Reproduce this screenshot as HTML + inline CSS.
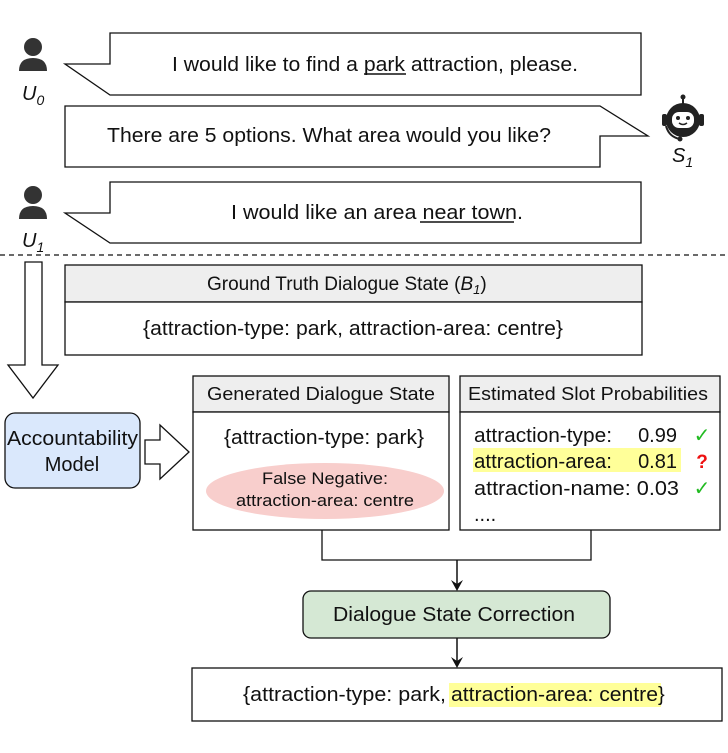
<!DOCTYPE html>
<html><head><style>
body{margin:0;background:#fff;}
svg text{font-family:"Liberation Sans",Arial,sans-serif;fill:#111;}
</style></head><body>
<svg width="728" height="748" viewBox="0 0 728 748" xmlns="http://www.w3.org/2000/svg">
<defs>
<g id="user"><circle cx="0" cy="0" r="9" fill="#333"/><path d="M-14,24 Q-14,11 0,11 Q14,11 14,24 Z" fill="#333"/></g>
</defs>
<path d="M110,33 H641 V95 H110 L65,64 H110 Z" fill="#fff" stroke="#111" stroke-width="1.3"/>
<text x="172" y="71" font-size="20" textLength="406" lengthAdjust="spacingAndGlyphs">I would like to find a park attraction, please.</text>
<line x1="364" y1="74" x2="406" y2="74" stroke="#111" stroke-width="1.5"/>
<path d="M65,106 H600 L648,136 H600 V167 H65 Z" fill="#fff" stroke="#111" stroke-width="1.3"/>
<text x="107" y="142" font-size="20" textLength="444" lengthAdjust="spacingAndGlyphs">There are 5 options. What area would you like?</text>
<path d="M110,182 H641 V243 H110 L65,213 H110 Z" fill="#fff" stroke="#111" stroke-width="1.3"/>
<text x="231" y="219" font-size="20" textLength="292" lengthAdjust="spacingAndGlyphs">I would like an area near town.</text>
<line x1="420" y1="222" x2="514" y2="222" stroke="#111" stroke-width="1.5"/>
<use href="#user" x="33" y="47"/>
<text x="22" y="100" font-size="20" font-style="italic">U<tspan font-size="14" dy="5">0</tspan></text>
<use href="#user" x="33" y="195"/>
<text x="22" y="247" font-size="20" font-style="italic">U<tspan font-size="14" dy="5">1</tspan></text>
<g transform="translate(683,120)">
<line x1="0" y1="-22" x2="0" y2="-14" stroke="#222" stroke-width="2"/><circle cx="0" cy="-23" r="2.5" fill="#222"/>
<circle cx="0" cy="0" r="17" fill="#222"/>
<rect x="-21" y="-6" width="5" height="12" rx="2" fill="#222"/><rect x="16" y="-6" width="5" height="12" rx="2" fill="#222"/>
<rect x="-11" y="-8" width="22" height="16" rx="7" fill="#fff"/>
<circle cx="-5" cy="-2" r="2" fill="#222"/><circle cx="5" cy="-2" r="2" fill="#222"/>
<path d="M-4,3 Q0,6 4,3" stroke="#222" stroke-width="1.5" fill="none"/>
<path d="M-17,6 Q-14,17 -3,19" stroke="#222" stroke-width="2" fill="none"/><circle cx="-3" cy="19" r="2.5" fill="#222"/>
</g>
<text x="672" y="162" font-size="20" font-style="italic">S<tspan font-size="14" dy="5">1</tspan></text>
<line x1="0" y1="255" x2="728" y2="255" stroke="#111" stroke-width="1.3" stroke-dasharray="5,4"/>
<path d="M25,262 H42 V365 H58 L33,398 L8,365 H25 Z" fill="#fff" stroke="#111" stroke-width="1.3"/>
<rect x="65" y="265" width="577" height="37" fill="#eeeeee" stroke="#111" stroke-width="1.3"/>
<rect x="65" y="302" width="577" height="53" fill="#fff" stroke="#111" stroke-width="1.3"/>
<text x="207" y="290" font-size="19">Ground Truth Dialogue State (<tspan font-style="italic">B</tspan><tspan font-size="13" dy="4" font-style="italic">1</tspan><tspan dy="-4">)</tspan></text>
<text x="143" y="335" font-size="20" textLength="420" lengthAdjust="spacingAndGlyphs">{attraction-type: park, attraction-area: centre}</text>
<rect x="5" y="413" width="135" height="75" rx="10" fill="#dae8fc" stroke="#111" stroke-width="1.3"/>
<text x="7" y="445" font-size="20" textLength="131" lengthAdjust="spacingAndGlyphs">Accountability</text>
<text x="72" y="471" font-size="20" text-anchor="middle">Model</text>
<path d="M145,440 H160 V425 L189,452 L160,479 V464 H145 Z" fill="#fff" stroke="#111" stroke-width="1.3"/>
<rect x="193" y="376" width="256" height="36" fill="#eeeeee" stroke="#111" stroke-width="1.3"/>
<rect x="193" y="412" width="256" height="118" fill="#fff" stroke="#111" stroke-width="1.3"/>
<text x="207" y="400" font-size="18" textLength="228" lengthAdjust="spacingAndGlyphs">Generated Dialogue State</text>
<text x="224" y="444" font-size="20" textLength="200" lengthAdjust="spacingAndGlyphs">{attraction-type: park}</text>
<ellipse cx="325" cy="491" rx="119" ry="28" fill="#f8cecc"/>
<text x="262" y="484" font-size="17" textLength="126" lengthAdjust="spacingAndGlyphs">False Negative:</text>
<text x="236" y="506" font-size="17" textLength="178" lengthAdjust="spacingAndGlyphs">attraction-area: centre</text>
<rect x="460" y="376" width="260" height="36" fill="#eeeeee" stroke="#111" stroke-width="1.3"/>
<rect x="460" y="412" width="260" height="118" fill="#fff" stroke="#111" stroke-width="1.3"/>
<text x="468" y="400" font-size="18" textLength="240" lengthAdjust="spacingAndGlyphs">Estimated Slot Probabilities</text>
<rect x="473" y="448" width="208" height="24" fill="#ffff99"/>
<text x="474" y="442" font-size="20" textLength="138" lengthAdjust="spacingAndGlyphs">attraction-type:</text><text x="677" y="442" font-size="20" text-anchor="end">0.99</text>
<text x="474" y="468" font-size="20" textLength="138" lengthAdjust="spacingAndGlyphs">attraction-area:</text><text x="677" y="468" font-size="20" text-anchor="end">0.81</text>
<text x="474" y="495" font-size="20" textLength="205" lengthAdjust="spacingAndGlyphs">attraction-name: 0.03</text>
<text x="474" y="521" font-size="20">....</text>
<text x="702" y="442" font-size="20" text-anchor="middle" style="fill:#22bb22">✓</text>
<text x="702" y="468" font-size="19" font-weight="bold" text-anchor="middle" style="fill:#ee1111">?</text>
<text x="702" y="495" font-size="20" text-anchor="middle" style="fill:#22bb22">✓</text>
<path d="M322,530 V560 H591 V530" fill="none" stroke="#111" stroke-width="1.3"/>
<line x1="457" y1="560" x2="457" y2="585" stroke="#111" stroke-width="1.5"/>
<path d="M451,580 L457,591 L463,580 L457,584 Z" fill="#111"/>
<rect x="303" y="591" width="307" height="47" rx="8" fill="#d5e8d4" stroke="#111" stroke-width="1.3"/>
<text x="333" y="621" font-size="20" textLength="242" lengthAdjust="spacingAndGlyphs">Dialogue State Correction</text>
<line x1="457" y1="638" x2="457" y2="662" stroke="#111" stroke-width="1.5"/>
<path d="M451,657 L457,668 L463,657 L457,661 Z" fill="#111"/>
<rect x="192" y="668" width="530" height="53" fill="#fff" stroke="#111" stroke-width="1.3"/>
<rect x="449" y="683" width="212" height="24" fill="#ffff99"/>
<text x="243" y="701" font-size="20" textLength="203" lengthAdjust="spacingAndGlyphs">{attraction-type: park,</text>
<text x="451" y="701" font-size="20" textLength="207" lengthAdjust="spacingAndGlyphs">attraction-area: centre</text>
<text x="658" y="701" font-size="20">}</text>
</svg>
</body></html>
